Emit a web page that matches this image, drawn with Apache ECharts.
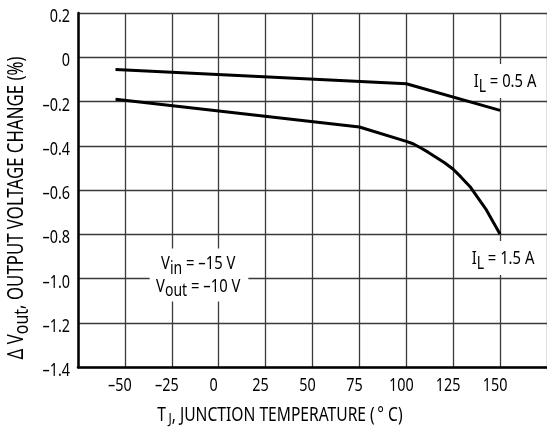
<!DOCTYPE html>
<html>
<head>
<meta charset="utf-8">
<script src="https://cdn.jsdelivr.net/npm/echarts@6/dist/echarts.min.js"></script>
<style>
  html, body { margin: 0; padding: 0; background: #fff; }
  #chart { width: 547px; height: 429px; }
</style>
</head>
<body>
<div id="chart"></div>
<script>
// Junction temperature (°C) and output voltage change (%) for two load currents
const tempLow = [-55, 100, 150];
const changeLow = [-0.055, -0.12, -0.24];

const tempHigh = [-55, 75, 100, 103.6, 107.3, 111.6, 116, 120.4, 125, 129.2, 134, 138, 142.7, 146, 150];
const changeHigh = [-0.19, -0.315, -0.38, -0.391, -0.408, -0.429, -0.453, -0.477, -0.506, -0.542, -0.585, -0.633, -0.69, -0.74, -0.8];

// Tick values and the text printed for them
const xTicks = [-50, -25, 0, 25, 50, 75, 100, 125, 150];
const xTickText = ['\u201350', '\u201325', '0', '25', '50', '75', '100', '125', '150'];
const yTicks = [0.2, 0, -0.2, -0.4, -0.6, -0.8, -1.0, -1.2, -1.4];
const yTickText = ['0.2', '0', '\u20130.2', '\u20130.4', '\u20130.6', '\u20130.8', '\u20131.0', '\u20131.2', '\u20131.4'];

// Text is set in a regular sans and squeezed along the baseline to get a condensed face
const FONT = '"Noto Sans", "Open Sans", sans-serif';
const SQUEEZE = 0.8;
const INK = '#000';

const pairs = (xs, ys) => xs.map((x, i) => [x, ys[i]]);

const chart = echarts.init(document.getElementById('chart'), null, { renderer: 'canvas' });

const gridLine = { show: true, lineStyle: { color: '#3a3a3a', width: 1.3 } };

chart.setOption({
  animation: false,
  backgroundColor: '#fff',
  grid: { left: 78, right: -2, top: 13, bottom: 62 },
  xAxis: {
    type: 'value',
    min: -75, max: 175, interval: 25,
    axisLine: { show: true, onZero: false, lineStyle: { color: '#000', width: 2.5 } },
    axisTick: { show: false },
    axisLabel: { show: false },
    splitLine: gridLine
  },
  yAxis: {
    type: 'value',
    min: -1.4, max: 0.2, interval: 0.2,
    axisLine: { show: true, onZero: false, lineStyle: { color: '#000', width: 2.5 } },
    axisTick: { show: false },
    axisLabel: { show: false },
    splitLine: gridLine
  },
  series: [
    {
      name: 'IL = 0.5 A',
      type: 'line',
      data: pairs(tempLow, changeLow),
      symbol: 'none',
      lineStyle: { color: '#000', width: 3 },
      z: 5
    },
    {
      name: 'IL = 1.5 A',
      type: 'line',
      data: pairs(tempHigh, changeHigh),
      symbol: 'none',
      lineStyle: { color: '#000', width: 3 },
      z: 5
    }
  ]
});

// Condensed text element anchored at (x, y); the squeeze runs along the text direction
function txt(x, y, text, opt) {
  opt = opt || {};
  return {
    type: 'text',
    x: x, y: y,
    z: 20,
    rotation: opt.rotation || 0,
    scaleX: opt.squeeze || SQUEEZE,
    scaleY: 1,
    style: {
      text: text,
      align: opt.align || 'center',
      verticalAlign: opt.verticalAlign || 'middle',
      fontFamily: FONT,
      fontSize: opt.size || 17,
      fill: INK,
      backgroundColor: opt.bg || null,
      padding: opt.padding || 0,
      lineHeight: opt.lineHeight,
      rich: opt.rich
    }
  };
}

const richSub = (size, drop) => ({
  m: { fontFamily: FONT, fontSize: size, fill: INK, lineHeight: size + 4 },
  s: { fontFamily: FONT, fontSize: size - 1, fill: INK, padding: [drop || 10, 0, 0, 0] }
});

const px = v => chart.convertToPixel({ xAxisIndex: 0 }, v);
const py = v => chart.convertToPixel({ yAxisIndex: 0 }, v);
const graphics = [];

// Tick labels placed on the axis scales
xTicks.forEach((t, i) => graphics.push(txt(px(t) - 5, 386, xTickText[i], { size: 18 })));
yTicks.forEach((t, i) => graphics.push(txt(70, py(t) + 4, yTickText[i], { size: 18, align: 'right' })));

// Curve annotations
graphics.push(txt(505, 81, '{m|I}{s|L}{m| = 0.5 A}', {
  rich: richSub(18.5), bg: '#fff', padding: [4, 6, 2, 6]
}));
graphics.push(txt(503, 258, '{m|I}{s|L}{m| = 1.5 A}', {
  rich: richSub(18.5), bg: '#fff', padding: [4, 6, 2, 6]
}));
graphics.push(txt(199, 275, '{m|V}{s|in}{m| = \u201315 V}\n{m|V}{s|out}{m| = \u201310 V}', {
  rich: richSub(18.5), bg: '#fff', padding: [4, 10, 4, 8], lineHeight: 21
}));

// Axis titles
graphics.push(txt(280, 415, '{m|T}{s|J}{m|, JUNCTION TEMPERATURE (\u2009\u00b0 C)}', {
  rich: {
    m: { fontFamily: FONT, fontSize: 19.5, fill: INK, lineHeight: 24 },
    s: { fontFamily: FONT, fontSize: 15, fill: INK, padding: [8, 0, 0, 3] }
  }
}));
graphics.push(txt(17, 208, '{m|\u0394 V}{s|out}{m|, OUTPUT VOLTAGE CHANGE (%)}', {
  rich: richSub(21), rotation: Math.PI / 2
}));

chart.setOption({ graphic: graphics });
</script>
</body>
</html>
